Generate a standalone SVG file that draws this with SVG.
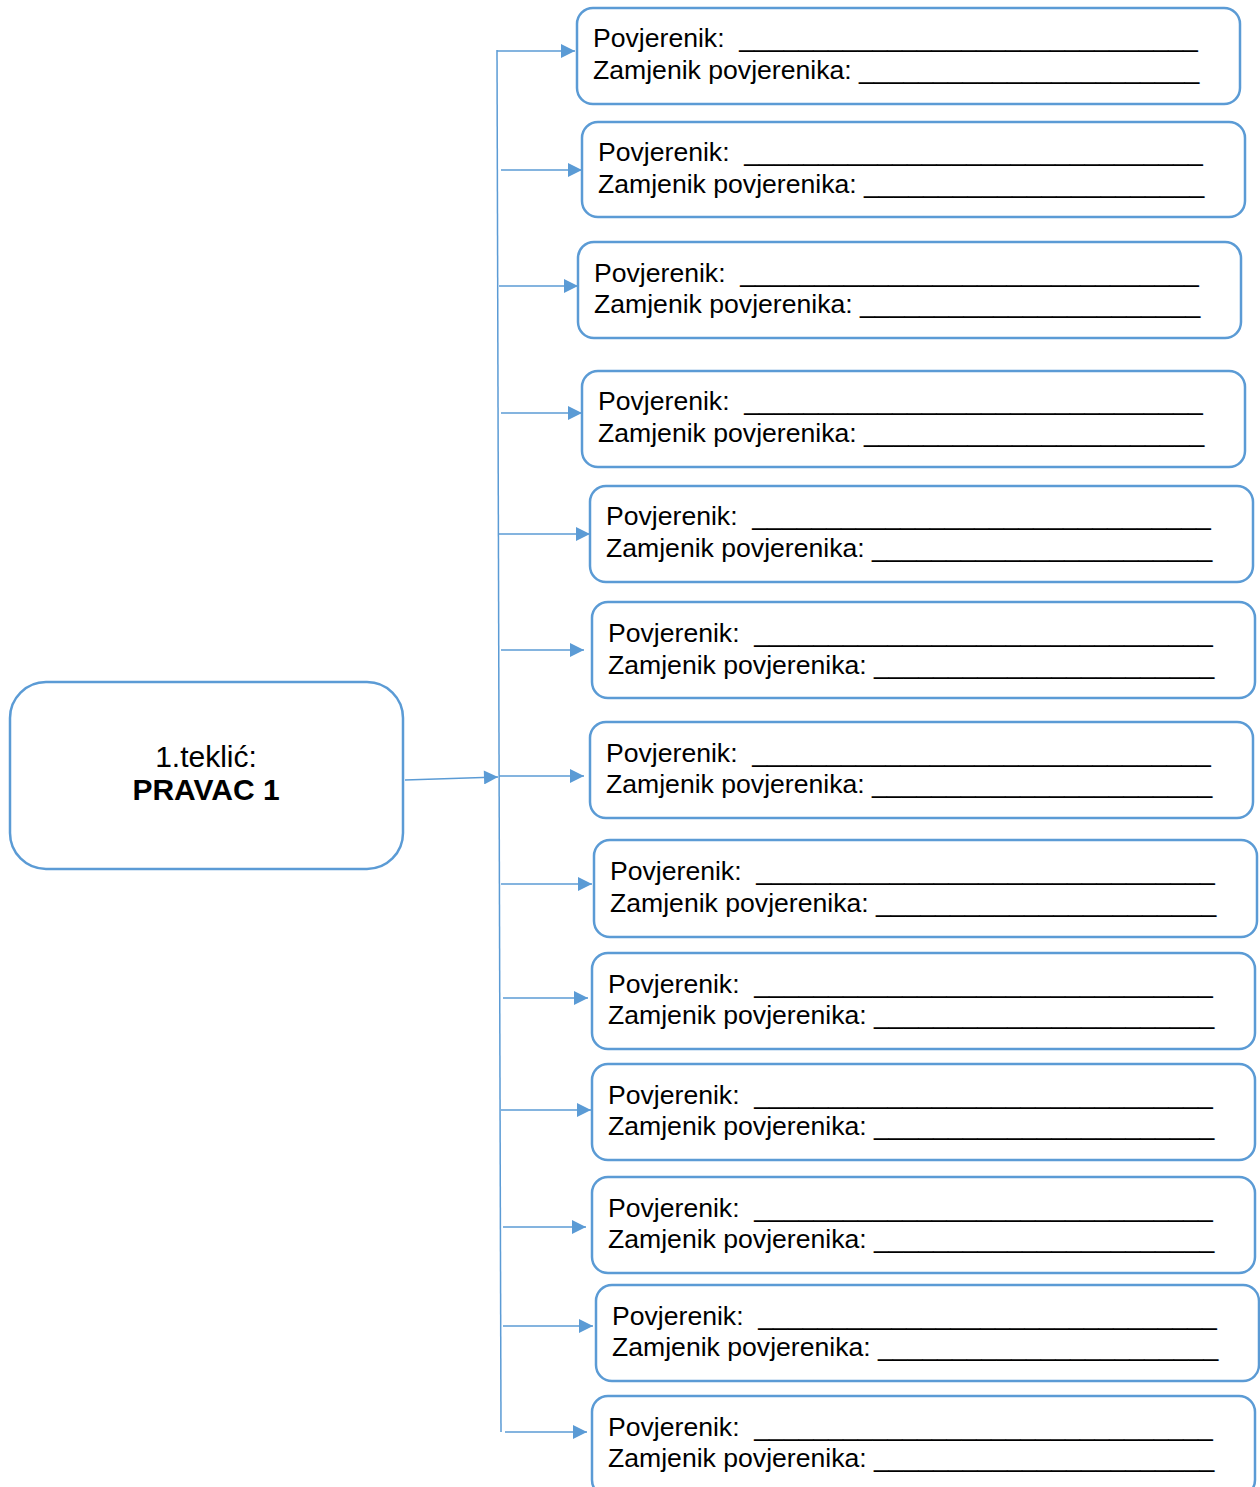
<svg xmlns="http://www.w3.org/2000/svg" width="1260" height="1487" viewBox="0 0 1260 1487">
<style>
.box{fill:#fff;stroke:#5b9bd5;stroke-width:2.5}
.t{font-family:"Liberation Sans",Arial,sans-serif;font-size:26.6px;fill:#000;white-space:pre}
.c{font-family:"Liberation Sans",Arial,sans-serif;font-size:30px;fill:#000;text-anchor:middle}
.ln{stroke:#5b9bd5;stroke-width:1.5;fill:none}
</style>
<defs>
<marker id="ah" viewBox="0 0 10 10" refX="10" refY="5" markerWidth="15" markerHeight="14" markerUnits="userSpaceOnUse" orient="auto">
<path d="M0,0 L10,5 L0,10 z" fill="#5b9bd5"/>
</marker>
</defs>
<g id="connectors">
<line class="ln" x1="497" y1="50" x2="501" y2="1432"/>
<line class="ln" x1="405" y1="780" x2="498" y2="777" marker-end="url(#ah)"/>
<line class="ln" x1="497" y1="51" x2="575" y2="51" marker-end="url(#ah)"/>
<line class="ln" x1="501" y1="170" x2="582" y2="170" marker-end="url(#ah)"/>
<line class="ln" x1="499" y1="286" x2="578" y2="286" marker-end="url(#ah)"/>
<line class="ln" x1="501" y1="413" x2="582" y2="413" marker-end="url(#ah)"/>
<line class="ln" x1="499" y1="534" x2="590" y2="534" marker-end="url(#ah)"/>
<line class="ln" x1="501" y1="650" x2="584" y2="650" marker-end="url(#ah)"/>
<line class="ln" x1="499" y1="776" x2="584" y2="776" marker-end="url(#ah)"/>
<line class="ln" x1="501" y1="884" x2="592" y2="884" marker-end="url(#ah)"/>
<line class="ln" x1="503" y1="998" x2="588" y2="998" marker-end="url(#ah)"/>
<line class="ln" x1="501" y1="1110" x2="591" y2="1110" marker-end="url(#ah)"/>
<line class="ln" x1="503" y1="1227" x2="586" y2="1227" marker-end="url(#ah)"/>
<line class="ln" x1="503" y1="1326" x2="593" y2="1326" marker-end="url(#ah)"/>
<line class="ln" x1="505" y1="1432" x2="587" y2="1432" marker-end="url(#ah)"/>
</g>
<g id="root">
<rect class="box" x="10" y="682" width="393" height="187" rx="36"/>
<text class="c" x="206" y="767">1.teklić:</text>
<text class="c" x="206" y="800" font-weight="bold">PRAVAC 1</text>
</g>
<g id="n1"><rect class="box" x="577" y="8" width="663" height="96" rx="16"/><text class="t" x="593" y="47">Povjerenik:  _______________________________</text><text class="t" x="593" y="79">Zamjenik povjerenika: _______________________</text></g>
<g id="n2"><rect class="box" x="582" y="122" width="663" height="95" rx="16"/><text class="t" x="598" y="161">Povjerenik:  _______________________________</text><text class="t" x="598" y="193">Zamjenik povjerenika: _______________________</text></g>
<g id="n3"><rect class="box" x="578" y="242" width="663" height="96" rx="16"/><text class="t" x="594" y="282">Povjerenik:  _______________________________</text><text class="t" x="594" y="313">Zamjenik povjerenika: _______________________</text></g>
<g id="n4"><rect class="box" x="582" y="371" width="663" height="96" rx="16"/><text class="t" x="598" y="410">Povjerenik:  _______________________________</text><text class="t" x="598" y="442">Zamjenik povjerenika: _______________________</text></g>
<g id="n5"><rect class="box" x="590" y="486" width="663" height="96" rx="16"/><text class="t" x="606" y="525">Povjerenik:  _______________________________</text><text class="t" x="606" y="557">Zamjenik povjerenika: _______________________</text></g>
<g id="n6"><rect class="box" x="592" y="602" width="663" height="96" rx="16"/><text class="t" x="608" y="642">Povjerenik:  _______________________________</text><text class="t" x="608" y="674">Zamjenik povjerenika: _______________________</text></g>
<g id="n7"><rect class="box" x="590" y="722" width="663" height="96" rx="16"/><text class="t" x="606" y="762">Povjerenik:  _______________________________</text><text class="t" x="606" y="793">Zamjenik povjerenika: _______________________</text></g>
<g id="n8"><rect class="box" x="594" y="840" width="663" height="97" rx="16"/><text class="t" x="610" y="880">Povjerenik:  _______________________________</text><text class="t" x="610" y="912">Zamjenik povjerenika: _______________________</text></g>
<g id="n9"><rect class="box" x="592" y="953" width="663" height="96" rx="16"/><text class="t" x="608" y="993">Povjerenik:  _______________________________</text><text class="t" x="608" y="1024">Zamjenik povjerenika: _______________________</text></g>
<g id="n10"><rect class="box" x="592" y="1064" width="663" height="96" rx="16"/><text class="t" x="608" y="1104">Povjerenik:  _______________________________</text><text class="t" x="608" y="1135">Zamjenik povjerenika: _______________________</text></g>
<g id="n11"><rect class="box" x="592" y="1177" width="663" height="96" rx="16"/><text class="t" x="608" y="1217">Povjerenik:  _______________________________</text><text class="t" x="608" y="1248">Zamjenik povjerenika: _______________________</text></g>
<g id="n12"><rect class="box" x="596" y="1285" width="663" height="96" rx="16"/><text class="t" x="612" y="1325">Povjerenik:  _______________________________</text><text class="t" x="612" y="1356">Zamjenik povjerenika: _______________________</text></g>
<g id="n13"><rect class="box" x="592" y="1396" width="663" height="100" rx="16"/><text class="t" x="608" y="1436">Povjerenik:  _______________________________</text><text class="t" x="608" y="1467">Zamjenik povjerenika: _______________________</text></g>
</svg>
